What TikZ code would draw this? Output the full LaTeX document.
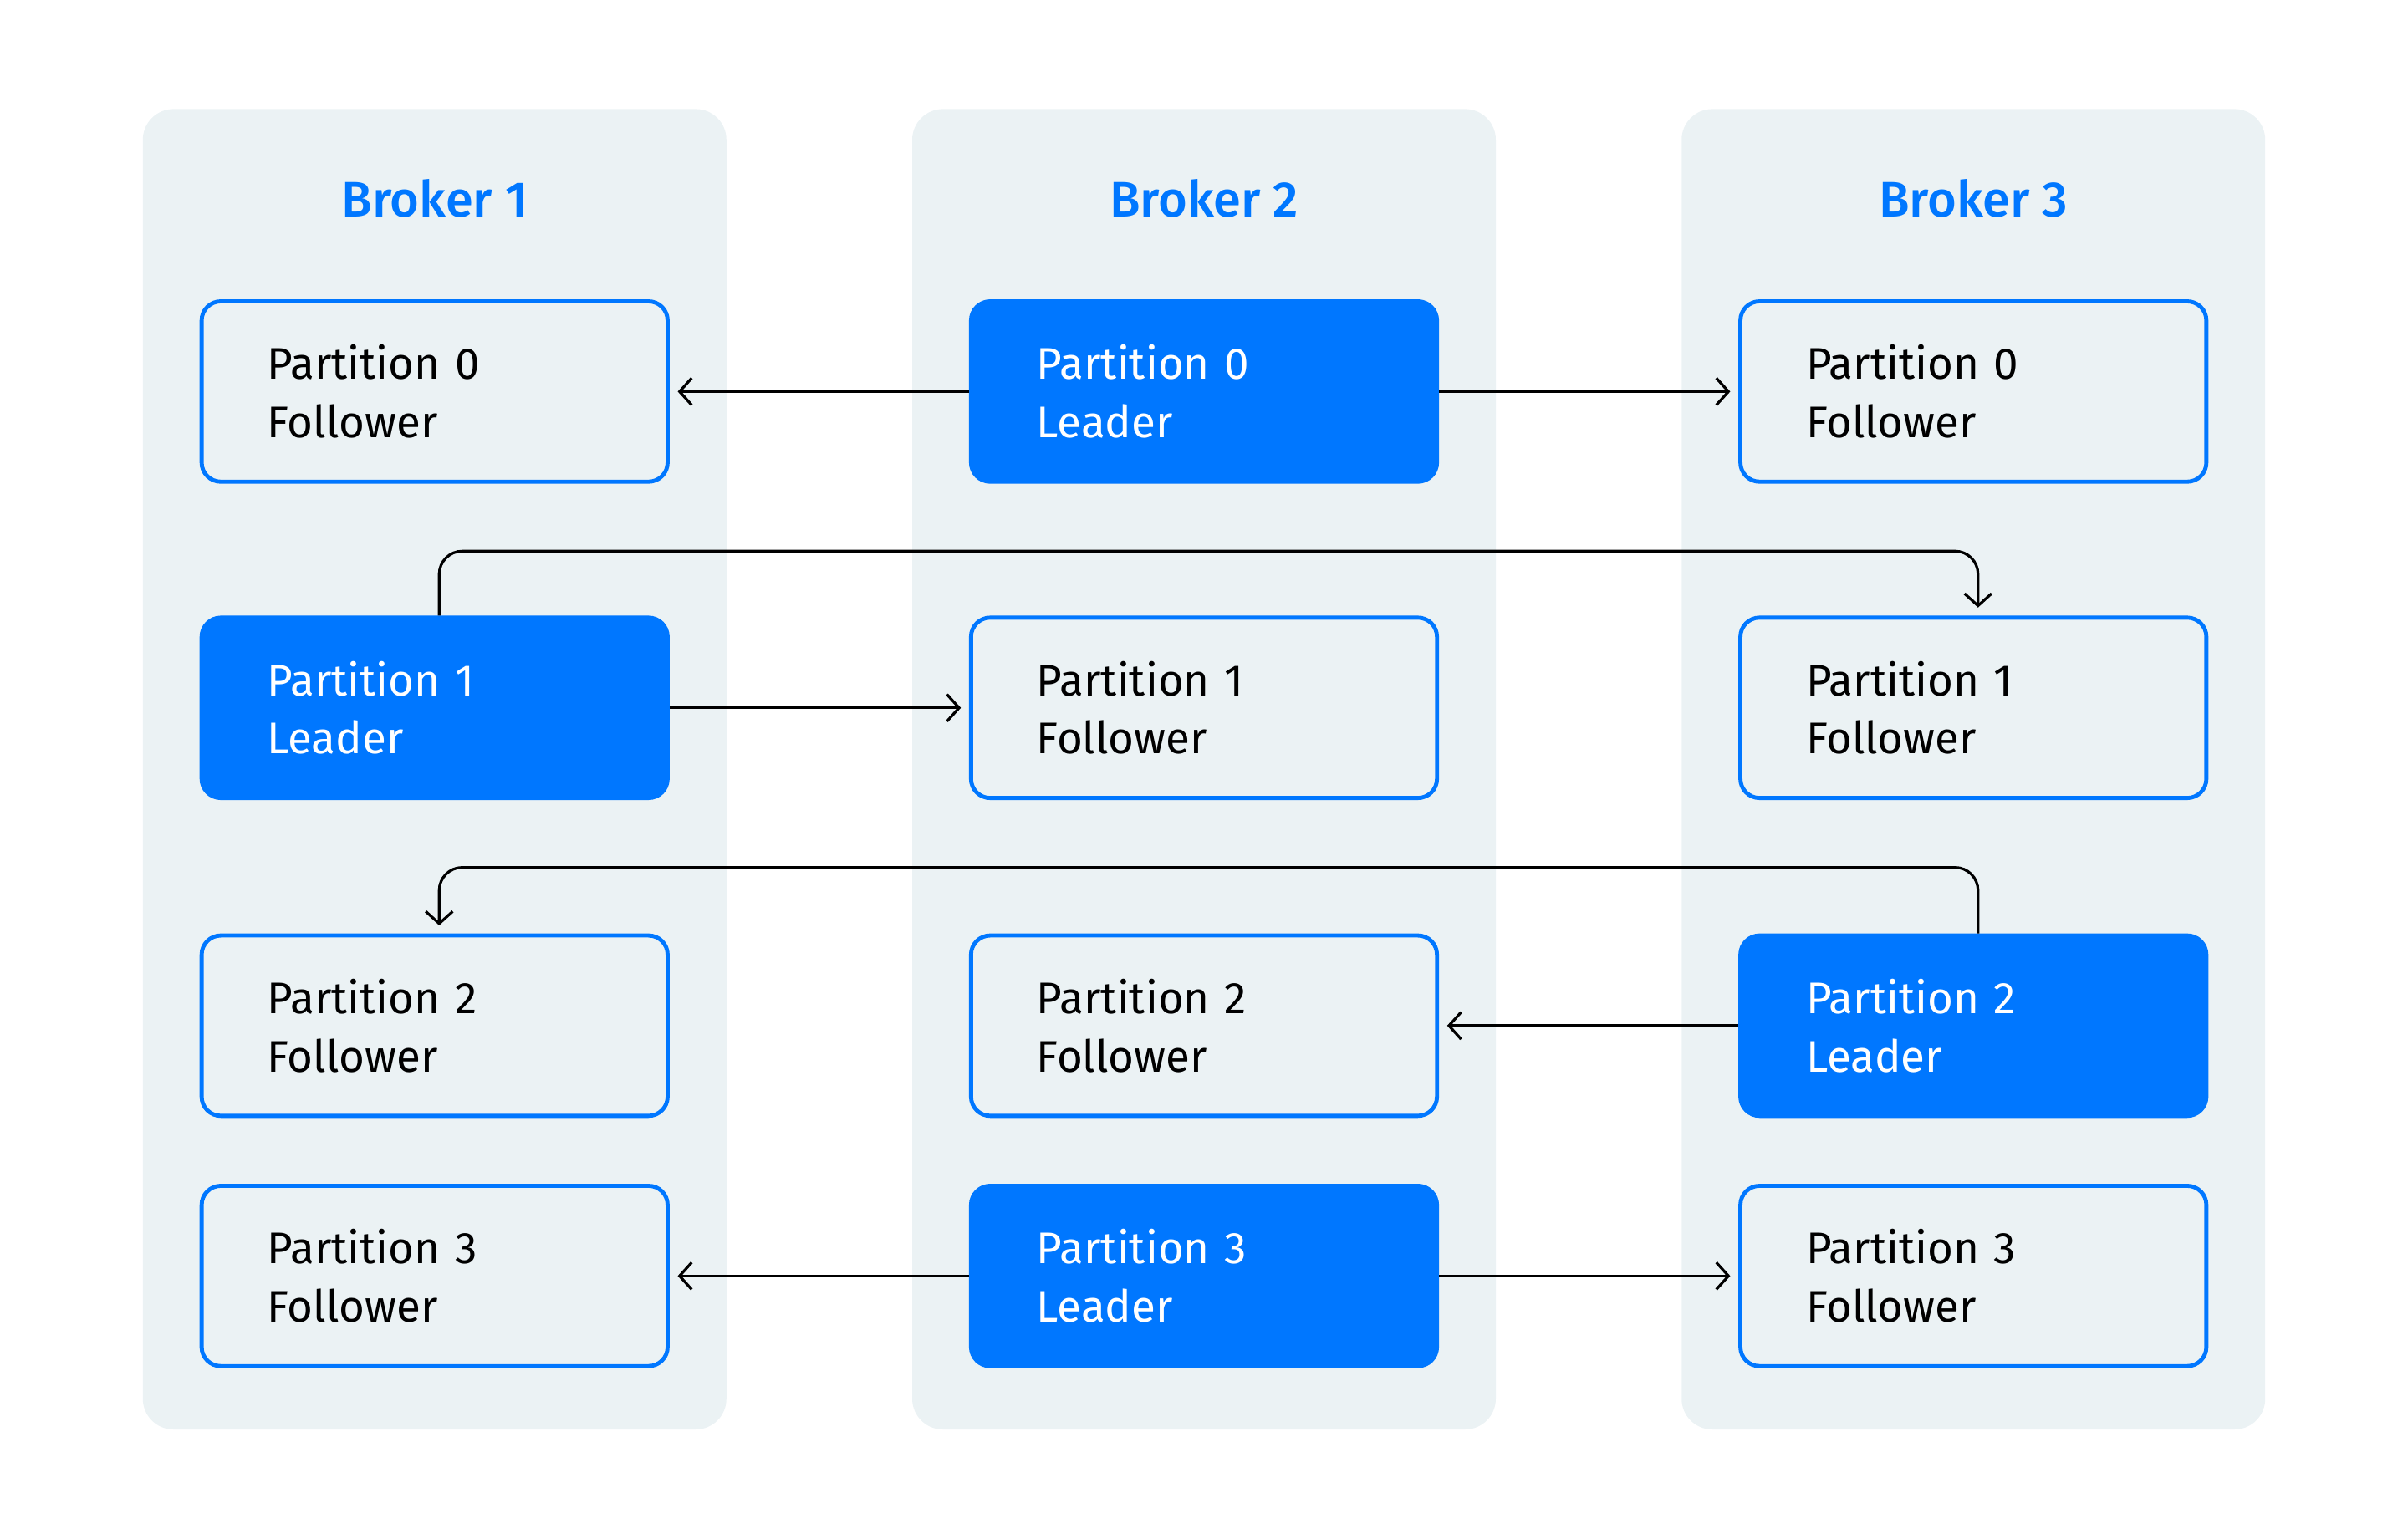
\documentclass[tikz,border=0pt]{standalone}
\usepackage{fontspec}
\setmainfont{Fira Sans}
\newfontfamily\titlefont{Fira Sans Medium}
\usetikzlibrary{calc, arrows.meta}
\definecolor{brokerbg}{RGB}{235,242,244}
\definecolor{kafkablue}{RGB}{0,119,255}

\begin{document}
\begin{tikzpicture}
  [
   x=0.02cm, y=-0.02cm, % 坐标按像素计, y 向下
   broker/.style={fill=brokerbg, rounded corners=0.4cm},
   title/.style={text=kafkablue, font=\fontsize{18.5}{22}\titlefont},
   part/.style={draw=kafkablue, line width=1.5pt, rounded corners=0.25cm,
                text width=4.36cm, inner xsep=0.855cm, minimum height=2.35cm,
                align=left, font=\fontsize{16.4}{21.6}\selectfont},
   follower/.style={part, fill=brokerbg, text=black},
   leader/.style={part, fill=kafkablue, text=white},
   link/.style={draw=black, line width=1pt,
                -{Straight Barb[length=4.5pt,width=10pt]}, shorten >=3pt}
  ]
  \useasboundingbox (0,0) rectangle (1568,1001.8);
  % 三个 broker 背景
  \foreach \c/\cx in {1/283, 2/784, 3/1285}
    {
     \fill[broker] (\cx-190,71) rectangle (\cx+190,931);
     \node[title] (broker\c) at (\cx,129) {Broker \c};
    }
  % 分区: 每行一个 leader
  \foreach \r/\ry/\lc in {0/255/2, 1/461/1, 2/668/3, 3/831/2}
    \foreach \c/\cx in {1/283, 2/784, 3/1285}
      {
       \ifnum\c=\lc
         \node[leader] (p\r b\c) at (\cx,\ry) {Partition \r\\Leader};
       \else
         \node[follower] (p\r b\c) at (\cx,\ry) {Partition \r\\Follower};
       \fi
      }
  % 复制箭头
  \draw[link] (p0b2) -- (p0b1);
  \draw[link] (p0b2) -- (p0b3);
  \draw[link] (p1b1) -- (p1b2);
  \draw[link, rounded corners=0.3cm]
       ([xshift=0.06cm]p1b1.north) |- ($(p1b3.north)+(3,-42)$) -- ([xshift=0.06cm]p1b3.north);
  \draw[link] (p2b3) -- (p2b2);
  \draw[link, rounded corners=0.3cm]
       ([xshift=0.06cm]p2b3.north) |- ($(p2b1.north)+(3,-43)$) -- ([xshift=0.06cm]p2b1.north);
  \draw[link] (p3b2) -- (p3b1);
  \draw[link] (p3b2) -- (p3b3);
\end{tikzpicture}
\end{document}
